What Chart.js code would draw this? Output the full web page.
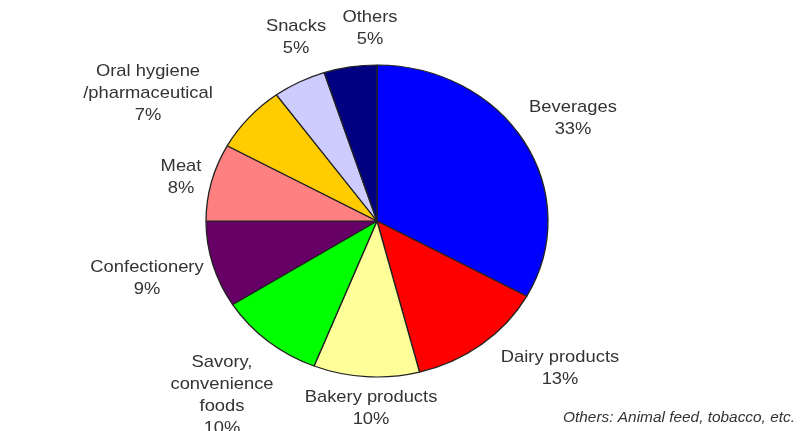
<!DOCTYPE html>
<html>
<head>
<meta charset="utf-8">
<title>Food market by segment</title>
<script src="https://cdn.jsdelivr.net/npm/chart.js"></script>
<style>
  html, body { margin: 0; padding: 0; background: #fff; }
  #wrap { width: 800px; height: 431px; }
</style>
</head>
<body>
<div id="wrap"><canvas id="myChart" width="800" height="431"></canvas></div>
<script>
// segment names (multi-line where the label wraps) and share in percent
var categories = [
  ["Beverages"],
  ["Dairy products"],
  ["Bakery products"],
  ["Savory,", "convenience", "foods"],
  ["Confectionery"],
  ["Meat"],
  ["Oral hygiene", "/pharmaceutical"],
  ["Snacks"],
  ["Others"],
];
var shares = [33, 13, 10, 10, 9, 8, 7, 5, 5];
var footnote = "Others: Animal feed, tobacco, etc.";

var colors = [
  "#0000ff", "#ff0000", "#ffff99", "#00ff00", "#660066",
  "#ff8080", "#ffcc00", "#ccccff", "#000080",
];

// where each label block sits (centre x, first line y)
var labelAnchors = [
  [573, 107], [560, 357], [371, 397], [222, 362], [147, 267],
  [181, 166], [148, 71], [296, 26], [370, 17],
];

var stretchX = 1.096; // pie is drawn a little wider than tall
var lineH = 22;

var ellipsePie = {
  id: "ellipsePie",
  beforeDatasetsDraw: function (chart) {
    var arc = chart.getDatasetMeta(0).data[0];
    var ctx = chart.ctx;
    ctx.save();
    ctx.translate(arc.x, arc.y);
    ctx.scale(stretchX, 1);
    ctx.translate(-arc.x, -arc.y);
  },
  afterDatasetsDraw: function (chart) {
    chart.ctx.restore();
  },
};

var sliceLabels = {
  id: "sliceLabels",
  afterDraw: function (chart) {
    var ctx = chart.ctx;
    ctx.save();
    ctx.fillStyle = "#333";
    ctx.textAlign = "center";
    ctx.textBaseline = "middle";
    ctx.font = "17px 'Liberation Sans', Arial, sans-serif";
    chart.data.labels.forEach(function (lines, i) {
      var pos = labelAnchors[i];
      var all = lines.concat([chart.data.datasets[0].data[i] + "%"]);
      all.forEach(function (txt, k) {
        ctx.save();
        ctx.translate(pos[0], pos[1] + k * lineH);
        ctx.scale(1.08, 1);
        ctx.fillText(txt, 0, 0);
        ctx.restore();
      });
    });
    // footnote, bottom right
    ctx.font = "italic 14px 'Liberation Sans', Arial, sans-serif";
    ctx.textAlign = "right";
    ctx.save();
    ctx.translate(795, 418);
    ctx.scale(1.1, 1);
    ctx.fillText(footnote, 0, 0);
    ctx.restore();
    ctx.restore();
  },
};

new Chart(document.getElementById("myChart").getContext("2d"), {
  type: "pie",
  data: {
    labels: categories,
    datasets: [
      {
        data: shares,
        backgroundColor: colors,
        borderColor: "#222",
        borderWidth: 1.2,
      },
    ],
  },
  options: {
    responsive: false,
    animation: false,
    radius: 156,
    layout: { padding: { left: 177, right: 223, top: 60, bottom: 49 } },
    plugins: {
      legend: { display: false },
      tooltip: { enabled: false },
    },
  },
  plugins: [ellipsePie, sliceLabels],
});
</script>
</body>
</html>
